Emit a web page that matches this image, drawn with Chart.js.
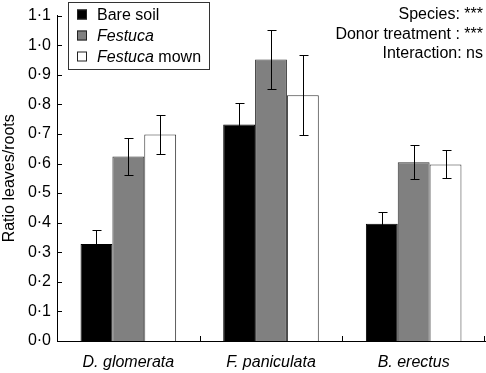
<!DOCTYPE html>
<html lang="en">
<head>
  <meta charset="UTF-8" />
  <title>Ratio leaves/roots</title>
  <script src="https://cdn.jsdelivr.net/npm/chart.js"></script>
  <style>
    html, body { margin: 0; padding: 0; background: #fff; }
    #wrap { width: 486px; height: 373px; }
  </style>
</head>
<body>
<div id="wrap"><canvas id="ratioChart" width="486" height="373"></canvas></div>

<script>
// data
const species = ["D. glomerata", "F. paniculata", "B. erectus"];
const bareSoil = [0.328, 0.732, 0.396];
const bareSoilErr = [0.046, 0.074, 0.041];
const festuca = [0.624, 0.952, 0.604];
const festucaErr = [0.062, 0.100, 0.057];
const festucaMown = [0.698, 0.831, 0.597];
const festucaMownErr = [0.065, 0.135, 0.047];
const yTicks = [0, 0.1, 0.2, 0.3, 0.4, 0.5, 0.6, 0.7, 0.8, 0.9, 1.0, 1.1];
const statLines = ["Species: ***", "Donor treatment : ***", "Interaction: ns"];

const FONT = "'Liberation Sans', Arial, Helvetica, sans-serif";
const SIZE = 16;
const fmt = v => v.toFixed(1).replace(".", "\u00b7");

// error bars, drawn through the y scale
const errorBars = {
  id: "errorBars",
  afterDatasetsDraw(chart) {
    const ctx = chart.ctx, y = chart.scales.y;
    ctx.save();
    ctx.strokeStyle = "#000";
    ctx.lineWidth = 1;
    chart.data.datasets.forEach((ds, di) => {
      chart.getDatasetMeta(di).data.forEach((bar, i) => {
        const v = ds.data[i], e = ds.err[i];
        const x = Math.round(bar.x) + 0.5;
        const top = Math.round(y.getPixelForValue(v + e)) + 0.5;
        const bot = Math.round(y.getPixelForValue(v - e)) + 0.5;
        ctx.beginPath();
        ctx.moveTo(x, top); ctx.lineTo(x, bot);
        ctx.moveTo(x - 4, top); ctx.lineTo(x + 5, top);
        ctx.moveTo(x - 4, bot); ctx.lineTo(x + 5, bot);
        ctx.stroke();
      });
    });
    ctx.restore();
  }
};

// inward ticks, legend box and the stats text
const decorations = {
  id: "decorations",
  afterDraw(chart) {
    const ctx = chart.ctx, area = chart.chartArea;
    const xs = chart.scales.x, ys = chart.scales.y;
    ctx.save();
    ctx.strokeStyle = "#000";
    ctx.lineWidth = 1;
    ctx.beginPath();
    yTicks.forEach(t => {
      const py = Math.round(ys.getPixelForValue(t)) + 0.5;
      ctx.moveTo(area.left, py); ctx.lineTo(area.left + 5, py);
    });
    for (let i = 0; i < species.length; i++) {
      let px;
      if (i < species.length - 1) px = (xs.getPixelForTick(i) + xs.getPixelForTick(i + 1)) / 2;
      else px = area.right - 1;
      px = Math.round(px) + 0.5;
      ctx.moveTo(px, area.bottom); ctx.lineTo(px, area.bottom - 5);
    }
    ctx.stroke();

    // legend
    ctx.fillStyle = "#fff";
    ctx.fillRect(68, 2, 141, 67);
    ctx.strokeStyle = "#333";
    ctx.strokeRect(68.5, 2.5, 141, 67);
    const rows = [
      { fill: "#000", parts: [["Bare soil", false]] },
      { fill: "#808080", parts: [["Festuca", true]] },
      { fill: "#fff", parts: [["Festuca", true], [" mown", false]] }
    ];
    ctx.textBaseline = "middle";
    rows.forEach((r, i) => {
      const cy = 14.5 + i * 21;
      ctx.fillStyle = r.fill;
      ctx.fillRect(77, cy - 5, 10, 10);
      ctx.strokeStyle = "#222";
      ctx.strokeRect(77.5, cy - 4.5, 9, 9);
      let tx = 97;
      ctx.fillStyle = "#000";
      ctx.textAlign = "left";
      r.parts.forEach(([txt, it]) => {
        ctx.font = (it ? "italic " : "") + SIZE + "px " + FONT;
        ctx.fillText(txt, tx, cy + 1);
        tx += ctx.measureText(txt).width;
      });
    });

    // stats
    ctx.font = SIZE + "px " + FONT;
    ctx.textAlign = "right";
    statLines.forEach((s, i) => ctx.fillText(s, 483, 15 + i * 19.5));
    ctx.restore();
  }
};

const ctx = document.getElementById("ratioChart").getContext("2d");
new Chart(ctx, {
  type: "bar",
  data: {
    labels: species,
    datasets: [
      { label: "Bare soil", data: bareSoil, err: bareSoilErr,
        backgroundColor: "#000", borderColor: "#000", borderWidth: 1 },
      { label: "Festuca", data: festuca, err: festucaErr,
        backgroundColor: "#808080", borderColor: "#333", borderWidth: 1 },
      { label: "Festuca mown", data: festucaMown, err: festucaMownErr,
        backgroundColor: "#fff", borderColor: "#333", borderWidth: 1 }
    ]
  },
  options: {
    responsive: false,
    animation: false,
    devicePixelRatio: 1,
    categoryPercentage: 0.67,
    barPercentage: 1.0,
    layout: { padding: { top: 14, right: 1, left: 0, bottom: 0 } },
    plugins: { legend: { display: false }, tooltip: { enabled: false } },
    scales: {
      x: {
        grid: { display: false, drawTicks: false },
        border: { color: "#000", width: 1 },
        ticks: { color: "#000", padding: 12, font: { family: FONT, size: SIZE, style: "italic" } },
        afterFit: s => { s.height = 32; }
      },
      y: {
        min: 0, max: 1.1,
        afterBuildTicks: s => { s.ticks = yTicks.map(v => ({ value: v })); },
        grid: { display: false, drawTicks: false },
        border: { color: "#000", width: 1 },
        ticks: { color: "#000", padding: 6, callback: v => fmt(v), font: { family: FONT, size: SIZE } },
        title: { display: true, text: "Ratio leaves/roots", color: "#000", padding: { top: 0, bottom: 1 },
                 font: { family: FONT, size: SIZE } },
        afterFit: s => { s.width = 57; }
      }
    }
  },
  plugins: [errorBars, decorations]
});
</script>
</body>
</html>
